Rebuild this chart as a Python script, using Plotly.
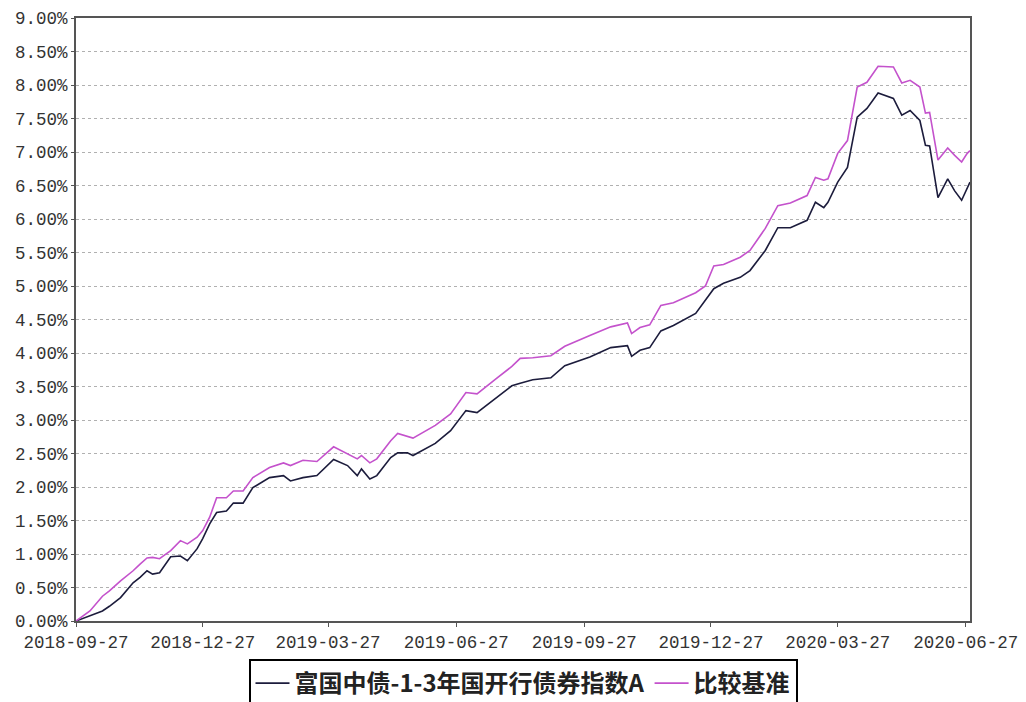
import plotly.graph_objects as go

dates = [
    "2018-09-27", "2018-10-07", "2018-10-16", "2018-10-21", "2018-10-29", "2018-11-07",
    "2018-11-12", "2018-11-17", "2018-11-21", "2018-11-26", "2018-12-04", "2018-12-11",
    "2018-12-16", "2018-12-23", "2018-12-27", "2019-01-01", "2019-01-06", "2019-01-13",
    "2019-01-18", "2019-01-25", "2019-02-01", "2019-02-13", "2019-02-23", "2019-02-28",
    "2019-03-09", "2019-03-19", "2019-03-31", "2019-04-10", "2019-04-17", "2019-04-20",
    "2019-04-26", "2019-05-01", "2019-05-11", "2019-05-16", "2019-05-23", "2019-05-27",
    "2019-06-12", "2019-06-23", "2019-07-04", "2019-07-12", "2019-07-26", "2019-08-06",
    "2019-08-12", "2019-08-21", "2019-09-03", "2019-09-13", "2019-10-01", "2019-10-16",
    "2019-10-28", "2019-10-31", "2019-11-06", "2019-11-13", "2019-11-21", "2019-11-30",
    "2019-12-16", "2019-12-23", "2019-12-29", "2020-01-05", "2020-01-17", "2020-01-24",
    "2020-02-04", "2020-02-13", "2020-02-22", "2020-03-05", "2020-03-11", "2020-03-17",
    "2020-03-20", "2020-03-27", "2020-04-03", "2020-04-10", "2020-04-17", "2020-04-25",
    "2020-05-06", "2020-05-12", "2020-05-18", "2020-05-25", "2020-05-29", "2020-06-01",
    "2020-06-07", "2020-06-14", "2020-06-19", "2020-06-24", "2020-06-28", "2020-06-30",
]

fund = [
    0.00, 0.08, 0.15, 0.22, 0.35, 0.57,
    0.65, 0.75, 0.70, 0.72, 0.96, 0.97,
    0.90, 1.08, 1.23, 1.45, 1.62, 1.64,
    1.76, 1.76, 1.99, 2.14, 2.17, 2.09,
    2.14, 2.17, 2.41, 2.32, 2.17, 2.27,
    2.12, 2.17, 2.44, 2.51, 2.51, 2.47,
    2.65, 2.84, 3.14, 3.11, 3.33, 3.51,
    3.55, 3.60, 3.63, 3.81, 3.94, 4.08,
    4.11, 3.95, 4.04, 4.08, 4.33, 4.41,
    4.59, 4.78, 4.96, 5.04, 5.13, 5.23,
    5.53, 5.87, 5.87, 5.98, 6.25, 6.17,
    6.25, 6.55, 6.77, 7.52, 7.65, 7.88,
    7.80, 7.55, 7.62, 7.47, 7.10, 7.09,
    6.32, 6.60, 6.42, 6.28, 6.46, 6.55,
]

benchmark = [
    0.00, 0.15, 0.37, 0.45, 0.60, 0.75,
    0.85, 0.94, 0.95, 0.93, 1.05, 1.20,
    1.15, 1.25, 1.35, 1.55, 1.84, 1.84,
    1.94, 1.94, 2.14, 2.29, 2.36, 2.32,
    2.40, 2.38, 2.60, 2.50, 2.42, 2.47,
    2.36, 2.42, 2.69, 2.80, 2.76, 2.73,
    2.92, 3.09, 3.41, 3.39, 3.62, 3.80,
    3.92, 3.93, 3.96, 4.10, 4.26, 4.39,
    4.45, 4.29, 4.38, 4.42, 4.71, 4.75,
    4.90, 5.00, 5.30, 5.32, 5.43, 5.53,
    5.86, 6.20, 6.24, 6.35, 6.62, 6.58,
    6.60, 6.98, 7.17, 7.97, 8.04, 8.28,
    8.27, 8.03, 8.07, 7.97, 7.58, 7.59,
    6.88, 7.06, 6.95, 6.85, 6.98, 7.02,
]

x_ticks = ["2018-09-27", "2018-12-27", "2019-03-27", "2019-06-27",
           "2019-09-27", "2019-12-27", "2020-03-27", "2020-06-27"]
y_ticks = [0, 0.5, 1.0, 1.5, 2.0, 2.5, 3.0, 3.5, 4.0, 4.5, 5.0, 5.5, 6.0, 6.5, 7.0, 7.5, 8.0, 8.5, 9.0]

names = ["富国中债-1-3年国开行债券指数A", "比较基准"]

fig = go.Figure()
fig.add_trace(go.Scatter(x=dates, y=fund, mode="lines", name=names[0],
                         line=dict(color="#1c1c3c", width=1.6)))
fig.add_trace(go.Scatter(x=dates, y=benchmark, mode="lines", name=names[1],
                         line=dict(color="#c452cc", width=1.6)))

tick_font = dict(family="Liberation Mono, monospace", size=17.5, color="#333333")

fig.update_layout(
    width=1026, height=760,
    margin=dict(l=76, r=56, t=18, b=139),
    paper_bgcolor="white", plot_bgcolor="white",
    showlegend=True,
    legend=dict(
        orientation="h", x=0.5, xanchor="center", y=-0.063, yanchor="top",
        bordercolor="#000000", borderwidth=2, bgcolor="white",
        font=dict(family="Noto Sans CJK SC", size=24, color="#222222", weight="bold"),
        itemwidth=34, tracegroupgap=0,
    ),
    xaxis=dict(
        type="date", range=["2018-09-27", "2020-06-30"],
        tickvals=x_ticks, ticktext=x_ticks,
        showgrid=False, showline=True, linecolor="#555555", linewidth=2,
        mirror=True, ticks="outside", ticklen=4, tickcolor="#555555",
        tickfont=tick_font, zeroline=False, automargin=False,
    ),
    yaxis=dict(
        range=[0, 9], tickvals=y_ticks,
        ticktext=[f"{v:.2f}%" for v in y_ticks],
        showgrid=True, gridcolor="#b0b0b0", griddash="dot", gridwidth=1,
        showline=True, linecolor="#555555", linewidth=2, mirror=True,
        ticks="outside", ticklen=3, tickcolor="#555555",
        tickfont=tick_font, zeroline=False, automargin=False,
    ),
)

fig.write_html(
    "out.html",
    config={"displayModeBar": False},
    post_script="document.body.style.margin='0';document.body.style.overflow='hidden';",
)
